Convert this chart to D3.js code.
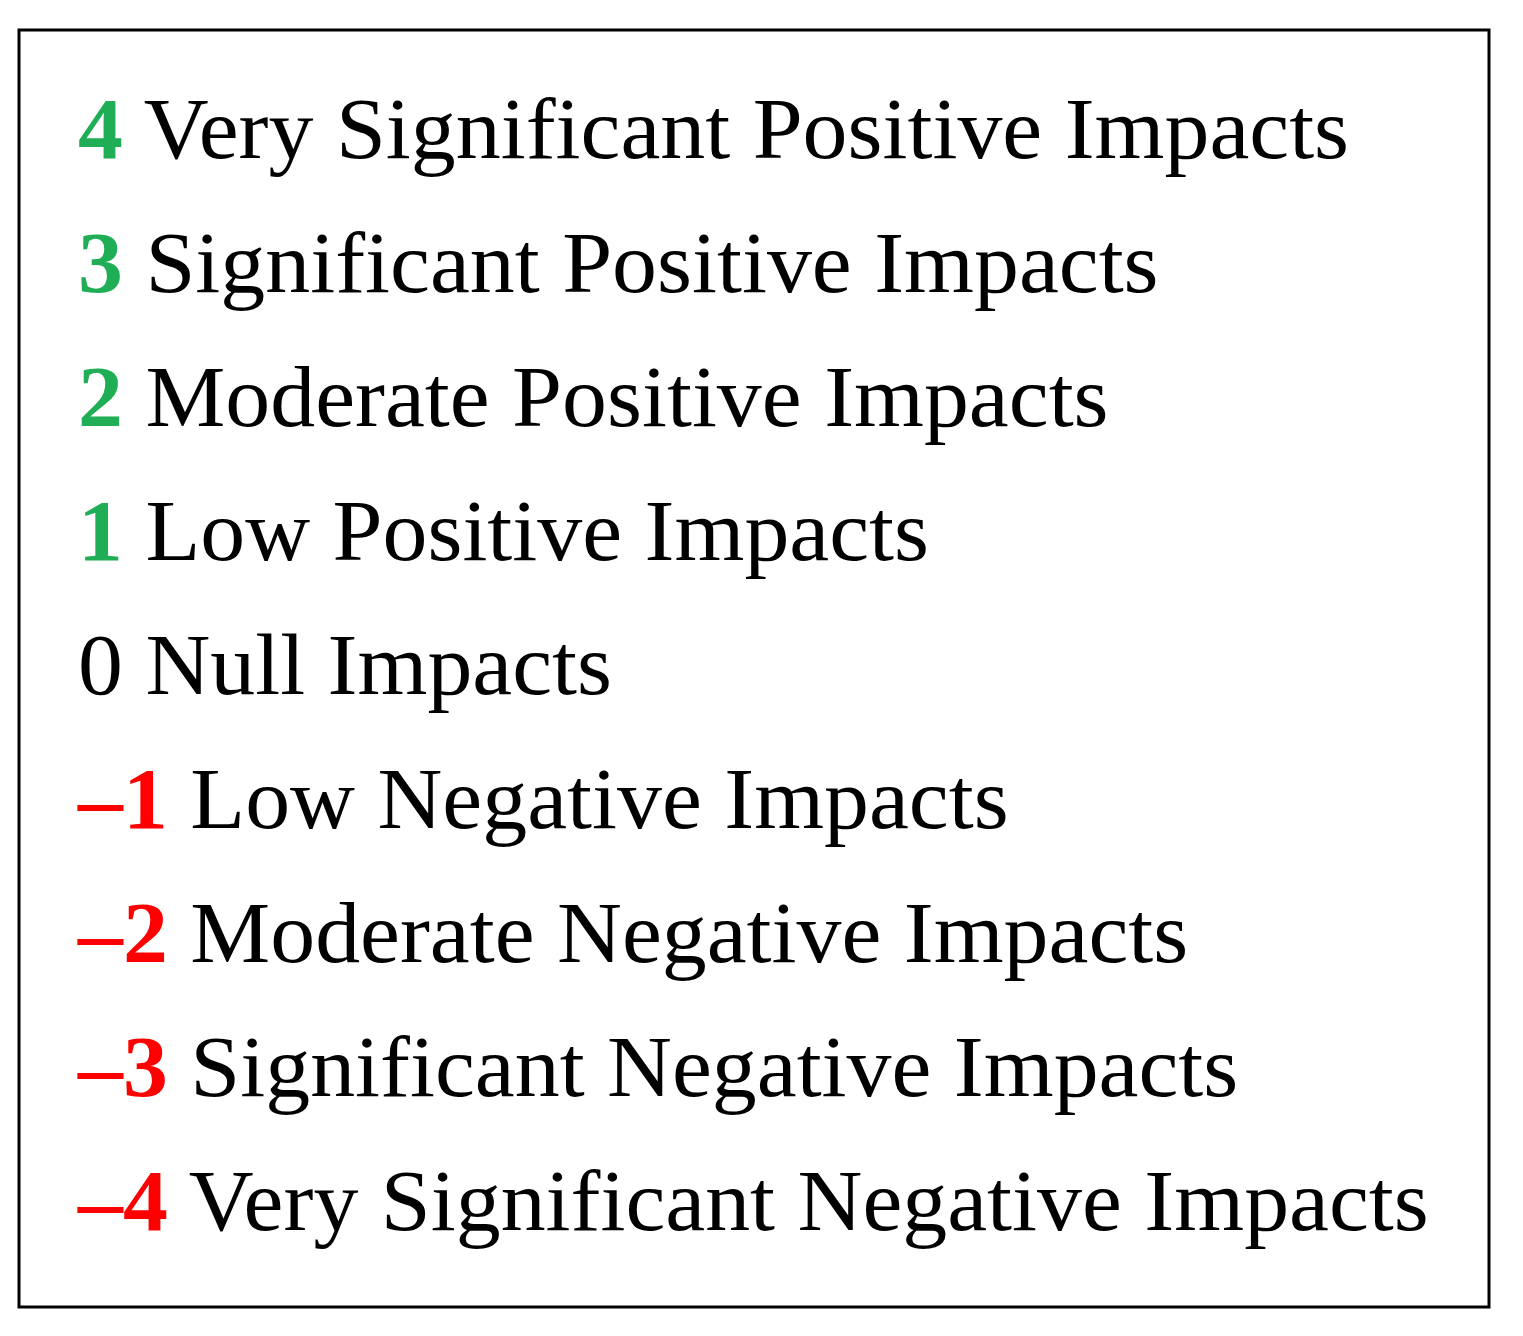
<!DOCTYPE html>
<html><head><meta charset="utf-8">
<script src="https://cdn.jsdelivr.net/npm/d3@7"></script>
<style>body{margin:0;background:#fff}</style>
</head><body><div id="container"></div>
<script>
// legend scores and labels
const scores = ["4", "3", "2", "1", "0", "\u20131", "\u20132", "\u20133", "\u20134"];
const labels = ["Very Significant Positive Impacts", "Significant Positive Impacts",
  "Moderate Positive Impacts", "Low Positive Impacts", "Null Impacts",
  "Low Negative Impacts", "Moderate Negative Impacts", "Significant Negative Impacts",
  "Very Significant Negative Impacts"];
const values = [4, 3, 2, 1, 0, -1, -2, -3, -4];

const w = 1523, h = 1336;

const yScale = d3.scalePoint()
  .domain(values)
  .range([158, 1230]);

const color = (v) => v > 0 ? "#1fae55" : v < 0 ? "#ff0000" : "#000";

const svg = d3.select("#container").append("svg")
  .attr("width", w).attr("height", h);

svg.append("rect")
  .attr("x", 19).attr("y", 30).attr("width", 1470).attr("height", 1277)
  .attr("fill", "none").attr("stroke", "#000").attr("stroke-width", 3);

// stretch a little to match the wider serif of the original
const rows = svg.append("g")
  .attr("transform", "translate(78,0) scale(1.045,1)")
  .attr("font-family", "'Liberation Serif', serif")
  .attr("font-size", 86)
  .selectAll("text")
  .data(values)
  .join("text")
  .attr("x", 0)
  .attr("y", (d) => yScale(d));

rows.append("tspan")
  .attr("font-weight", (d) => d === 0 ? "normal" : "bold")
  .attr("fill", color)
  .text((d, i) => scores[i]);

rows.append("tspan")
  .attr("fill", "#000")
  .text((d, i) => " " + labels[i]);
</script>
</body></html>
